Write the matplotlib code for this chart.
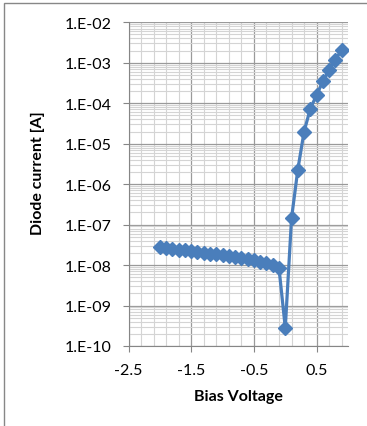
import numpy as np
import matplotlib.pyplot as plt
from matplotlib.ticker import FixedLocator, FuncFormatter, LogLocator, NullFormatter
from matplotlib.patches import Rectangle

plt.rcParams['font.family'] = ['Lato', 'DejaVu Sans']

# bias voltage [V] and diode current [A]
voltage = [-2.0, -1.9, -1.8, -1.7, -1.6, -1.5, -1.4, -1.3, -1.2, -1.1,
           -1.0, -0.9, -0.8, -0.7, -0.6, -0.5, -0.4, -0.3, -0.2, -0.1,
           0.0, 0.1, 0.2, 0.3, 0.4, 0.5, 0.6, 0.7, 0.8, 0.9]
current = [2.75e-8, 2.62e-8, 2.50e-8, 2.40e-8, 2.30e-8, 2.20e-8, 2.10e-8, 2.01e-8, 1.92e-8, 1.83e-8,
           1.75e-8, 1.66e-8, 1.58e-8, 1.49e-8, 1.40e-8, 1.31e-8, 1.21e-8, 1.10e-8, 9.8e-9, 8.3e-9,
           2.8e-10, 1.45e-7, 2.3e-6, 2.0e-5, 7.4e-5, 1.6e-4, 3.5e-4, 6.6e-4, 1.2e-3, 2.1e-3]

x_ticks = [-2.5, -1.5, -0.5, 0.5]

fig = plt.figure(figsize=(3.67, 4.27), dpi=100)
# chart border (cropped at right and bottom)
fig.patches.append(Rectangle((4 / 367, -0.1), 1.2, 1 - 3.5 / 427 + 0.1,
                             transform=fig.transFigure, fill=False,
                             edgecolor='#878787', linewidth=1.0))

ax = fig.add_axes([128.5 / 367, 1 - 347 / 427, (348 - 128.5) / 367, (347 - 23.3) / 427])

ax.plot(voltage, current, color='#4a7ebb', linewidth=2.3, marker='D',
        markersize=7.5, markerfacecolor='#4a7ebb', markeredgecolor='#4a7ebb', zorder=3)

ax.set_yscale('log')
ax.set_xlim(-2.5, 1.0)
ax.set_ylim(1e-10, 1e-2)

ax.xaxis.set_major_locator(FixedLocator(x_ticks))
ax.xaxis.set_minor_locator(FixedLocator(np.round(np.arange(-2.5, 1.01, 0.2), 2)))
ax.xaxis.set_major_formatter(FuncFormatter(lambda v, p: '%g' % v))
ax.yaxis.set_major_locator(LogLocator(base=10, numticks=20))
ax.yaxis.set_minor_locator(LogLocator(base=10, subs=np.arange(2, 10), numticks=20))
ax.yaxis.set_major_formatter(FuncFormatter(lambda v, p: '1.E%+03d' % int(round(np.log10(v)))))
ax.yaxis.set_minor_formatter(NullFormatter())

ax.grid(which='major', color='#9a9a9a', linewidth=0.9)
ax.grid(which='minor', color='#d4d4d4', linewidth=0.8)
ax.set_axisbelow(True)

for side in ['top', 'right']:
    ax.spines[side].set_visible(False)
for side in ['left', 'bottom']:
    ax.spines[side].set_color('#868686')

ax.tick_params(which='major', length=4, width=0.8, color='#868686', labelsize=11.5, pad=8)
ax.tick_params(which='minor', length=0)

fig.text(38 / 367, 1 - 173 / 427, 'Diode current [A]', rotation=90, fontsize=11.5,
         fontweight='bold', ha='center', va='center')
fig.text(238 / 367, 1 - 397 / 427, 'Bias Voltage', fontsize=11.5,
         fontweight='bold', ha='center', va='center')

plt.savefig('out.png', dpi=100)
